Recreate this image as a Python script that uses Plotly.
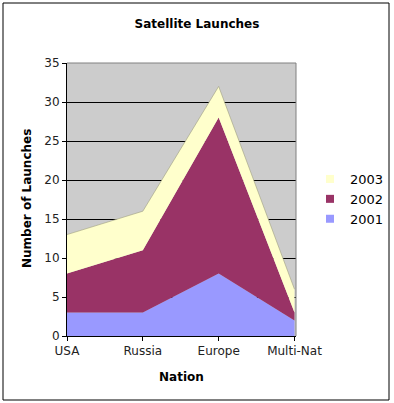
import plotly.graph_objects as go

nations = ["USA", "Russia", "Europe", "Multi-Nat"]
y2001 = [3, 3, 8, 2]
y2002 = [5, 8, 20, 1]
y2003 = [5, 5, 4, 3]
yticks = [0, 5, 10, 15, 20, 25, 30, 35]

xpos = list(range(len(nations)))
font = "DejaVu Sans, Verdana, sans-serif"

fig = go.Figure()
series = [("2001", y2001, "#9999FF"), ("2002", y2002, "#993366"), ("2003", y2003, "#FFFFCC")]
for name, vals, col in series:
    fig.add_trace(go.Scatter(
        x=xpos, y=vals, name=name, stackgroup="one", mode="lines", showlegend=False,
        line=dict(width=0.6 if name == "2003" else 0, color="#A0A080" if name == "2003" else col),
        fillcolor=col, hoverinfo="skip",
    ))
# legend entries (square swatches)
for name, vals, col in series:
    fig.add_trace(go.Scatter(
        x=[None], y=[None], name=name, mode="markers",
        marker=dict(symbol="square", size=8, color=col, line=dict(width=0)),
    ))

W, H = 394, 403
L, R, T, B = 67, 98, 63, 67
pw, ph = W - L - R, H - T - B

def px(x):
    return (x - L) / pw

def py(y):
    return (H - B - y) / ph

fig.update_layout(
    width=W, height=H,
    margin=dict(l=L, r=R, t=T, b=B, autoexpand=False),
    paper_bgcolor="white", plot_bgcolor="#CCCCCC",
    hovermode=False,
    font=dict(family=font, size=12, color="black"),
    title=dict(text="<b>Satellite Launches</b>", x=0.5, xref="container", xanchor="center",
               y=1 - 24 / H, yref="container", yanchor="middle", font=dict(size=12)),
    legend=dict(x=px(310), y=py(199), xanchor="left", yanchor="middle", traceorder="reversed",
                font=dict(size=13), bgcolor="rgba(0,0,0,0)", tracegroupgap=0),
    showlegend=True,
    xaxis=dict(range=[0, 3.02], tickvals=xpos, ticktext=nations, showgrid=False, zeroline=False,
               showline=True, linecolor="black", linewidth=1, ticks="outside", ticklen=4,
               tickcolor="black", automargin=False, tickfont=dict(size=12, color="#222")),
    yaxis=dict(range=[0, 35], tickvals=yticks, showgrid=True, gridcolor="black", gridwidth=1,
               zeroline=False, showline=True, linecolor="black", linewidth=1, ticks="outside",
               ticklen=4, tickcolor="black", automargin=False,
               tickfont=dict(size=12, color="#222")),
    annotations=[
        dict(text="<b>Nation</b>", xref="paper", yref="paper", x=px(181), y=py(377),
             xanchor="center", yanchor="middle", showarrow=False, font=dict(size=12)),
        dict(text="<b>Number of Launches</b>", xref="paper", yref="paper", x=px(27), y=py(199),
             xanchor="center", yanchor="middle", showarrow=False, textangle=-90,
             font=dict(size=12)),
    ],
    shapes=[
        dict(type="line", xref="x domain", yref="y domain", x0=0, x1=1, y0=1, y1=1,
             line=dict(color="#808080", width=1)),
        dict(type="line", xref="x domain", yref="y domain", x0=1, x1=1, y0=0, y1=1,
             line=dict(color="#808080", width=1)),
        dict(type="rect", xref="paper", yref="paper", x0=px(3), x1=px(389), y0=py(400), y1=py(3),
             line=dict(color="black", width=1)),
    ],
)

fig.write_html("out.html", config={"displayModeBar": False},
               post_script="document.body.style.margin='0px';document.body.style.overflow='hidden';")
